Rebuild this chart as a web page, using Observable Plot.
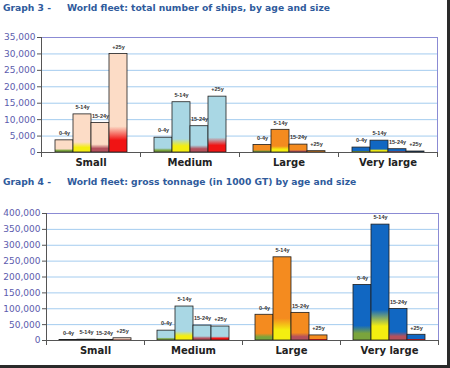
<!DOCTYPE html>
<html><head><meta charset="utf-8">
<script src="https://cdn.jsdelivr.net/npm/d3@7"></script>
<script src="https://cdn.jsdelivr.net/npm/@observablehq/plot@0.6"></script>
<style>
html,body{margin:0;padding:0;background:#fff;}
#page{position:relative;width:450px;height:368px;overflow:hidden;background:#fff;font-family:"DejaVu Sans",sans-serif;}
.t{position:absolute;font-weight:bold;font-size:9.2px;color:#2f5b9c;white-space:nowrap;line-height:12px;}
#edge{position:absolute;left:0;top:0;width:447px;height:365px;border-right:3px solid #2a2a2a;border-bottom:3px solid #2a2a2a;pointer-events:none;}
.chart{position:absolute;left:0;}
</style></head>
<body>
<svg width="0" height="0" style="position:absolute"><defs id="grads"></defs></svg>
<div id="page">
  <div class="t" style="left:3px;top:2px">Graph 3 -</div>
  <div class="t" style="left:67px;top:2px">World fleet: total number of ships, by age and size</div>
  <div class="chart" id="c3" style="top:28px"></div>
  <div class="t" style="left:3px;top:176px">Graph 4 -</div>
  <div class="t" style="left:67px;top:176px">World fleet: gross tonnage (in 1000 GT) by age and size</div>
  <div class="chart" id="c4" style="top:200px"></div>
  <div id="edge"></div>
</div>
<script>
const categories = ["Small", "Medium", "Large", "Very large"];
const ages = ["0-4y", "5-14y", "15-24y", "+25y"];

// Graph 3: number of ships
const shipsSmall = [3700, 11600, 9000, 30000];
const shipsMedium = [4500, 15300, 8000, 17000];
const shipsLarge = [2300, 6900, 2400, 400];
const shipsVeryLarge = [1500, 3600, 1000, 300];
const shipTicks = [0, 5000, 10000, 15000, 20000, 25000, 30000, 35000];

// Graph 4: gross tonnage (1000 GT)
const gtSmall = [1500, 2500, 2000, 7000];
const gtMedium = [31000, 107000, 47000, 44000];
const gtLarge = [81000, 262000, 87000, 16000];
const gtVeryLarge = [175000, 365000, 99000, 18000];
const gtTicks = [0, 50000, 100000, 150000, 200000, 250000, 300000, 350000, 400000];

// styles
const categoryColors = ["#fcdcc6", "#a9d7e4", "#f48b1f", "#1167c2"];
const ageAccents = ["#7aa43c", "#f4ee10", "#b4505c", "#f01414"];

const defs = d3.select("#grads");
categoryColors.forEach((base, ci) => ageAccents.forEach((acc, ai) => {
  const g = defs.append("linearGradient").attr("id", `g${ci}-${ai}`)
    .attr("x1", 0).attr("y1", 0).attr("x2", 0).attr("y2", 1);
  [[0, base], [0.74, base], [0.88, acc], [1, acc]].forEach(([o, c]) =>
    g.append("stop").attr("offset", o).attr("stop-color", c));
}));

const fmt = d3.format(",");

function chart(values, ticks, {width, height, marginTop, marginBottom, marginLeft}) {
  const rows = categories.flatMap((cat, ci) => ages.map((age, ai) => ({cat, age, ci, ai, value: values[ci][ai]})));
  const ph = height - marginTop - marginBottom;
  return Plot.plot({
    width, height, marginTop, marginBottom, marginLeft, marginRight: 2,
    style: {fontFamily: "DejaVu Sans", background: "white", overflow: "visible"},
    fx: {domain: categories, padding: 0},
    x: {domain: ages, paddingInner: 0, paddingOuter: 0.72, axis: null},
    y: {domain: [ticks[0], ticks[ticks.length - 1]]},
    color: {type: "identity"},
    marks: [
      Plot.ruleY(ticks, {stroke: "#a4ccef", strokeWidth: 1}),
      Plot.barY(rows, {fx: "cat", x: "age", y: "value", fill: d => `url(#g${d.ci}-${d.ai})`, stroke: "#1e1e1e", strokeWidth: 0.8}),
      Plot.frame({facet: "super", stroke: "#8b8bd4"}),
      Plot.frame({facet: "super", anchor: "left", stroke: "#555"}),
      Plot.frame({facet: "super", anchor: "bottom", stroke: "#555"}),
      Plot.frame({anchor: "left", stroke: "#555", insetTop: ph, insetBottom: -4}),
      Plot.frame({facet: "super", anchor: "right", stroke: "#555", insetTop: ph, insetBottom: -4}),
      Plot.axisY(ticks, {tickFormat: fmt, label: null, tickSize: 4, tickPadding: 2, stroke: "#555", fill: "#5c5cad", fontSize: 9}),
      Plot.axisFx({anchor: "bottom", tickSize: 0, tickPadding: 6, fontSize: 10, fontWeight: "bold", fill: "#222", label: null}),
      Plot.text(rows, {fx: "cat", x: "age", y: "value", text: "age", dy: -7, fontSize: 5.5, fontWeight: "bold", fontFamily: "Liberation Sans", fill: "#333"})
    ]
  });
}

document.getElementById("c3").append(chart(
  [shipsSmall, shipsMedium, shipsLarge, shipsVeryLarge], shipTicks,
  {width: 440, height: 142, marginTop: 9, marginBottom: 18, marginLeft: 40}));
document.getElementById("c4").append(chart(
  [gtSmall, gtMedium, gtLarge, gtVeryLarge], gtTicks,
  {width: 441, height: 162, marginTop: 13, marginBottom: 22, marginLeft: 44}));
</script>
</body></html>
